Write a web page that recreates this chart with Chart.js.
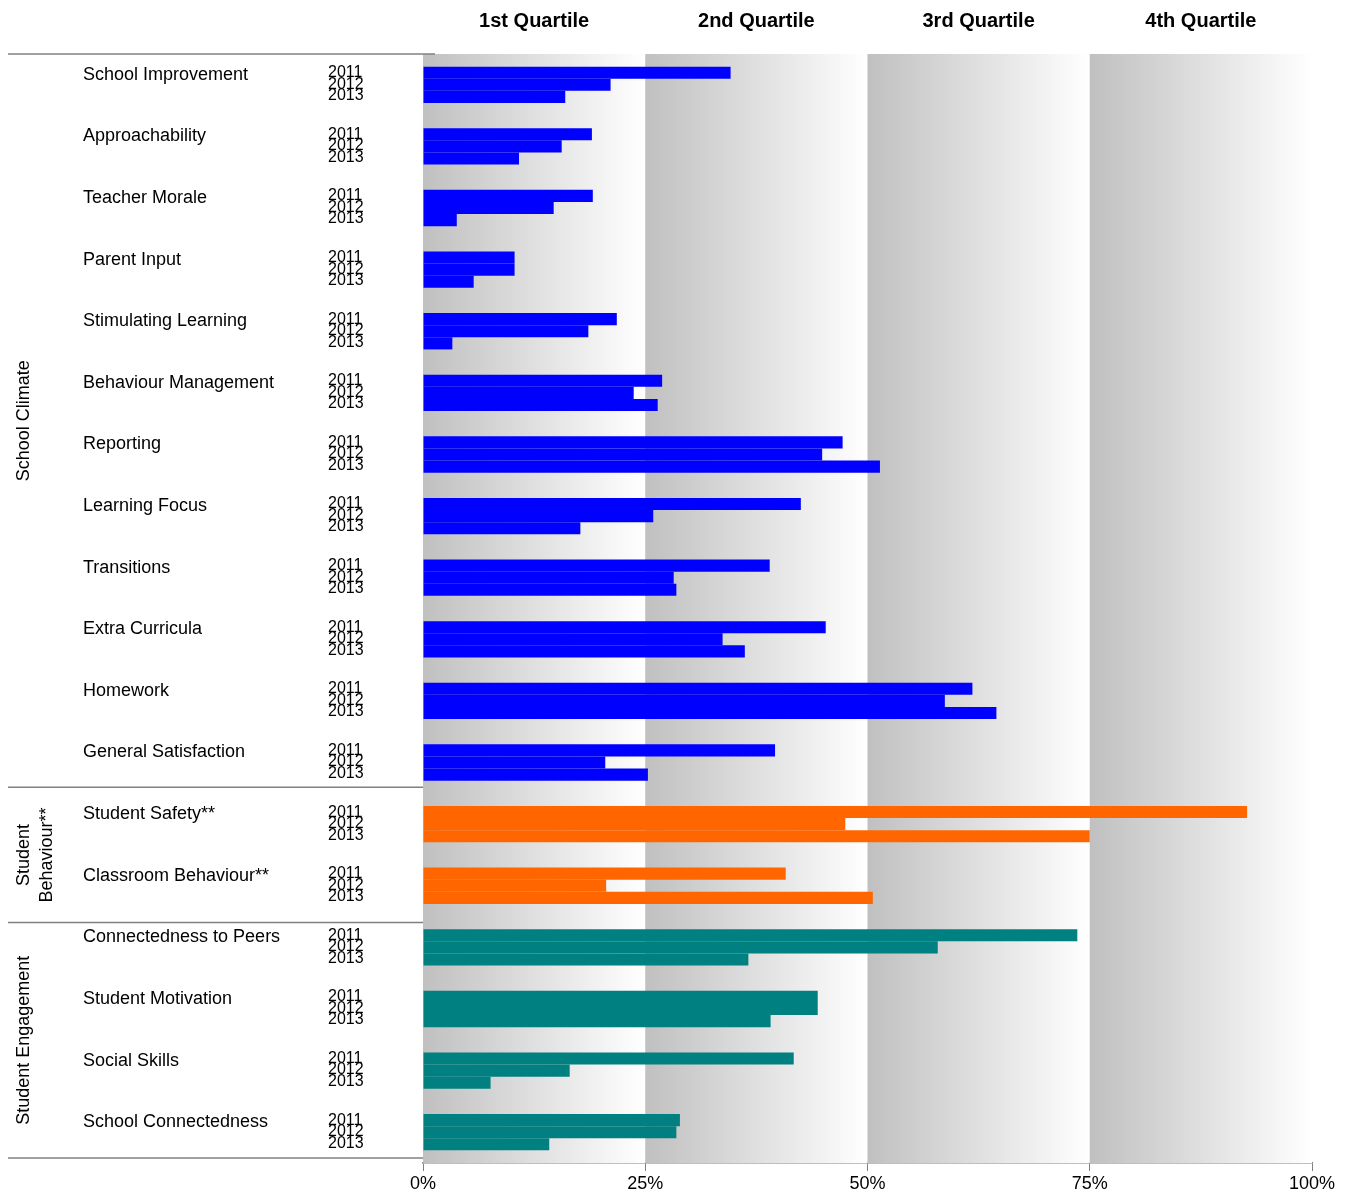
<!DOCTYPE html>
<html><head><meta charset="utf-8">
<script src="https://cdn.jsdelivr.net/npm/chart.js@4.4.0/dist/chart.umd.min.js"></script>
<style>body{margin:0;background:#fff}canvas{display:block}</style>
</head><body>
<canvas id="c" width="1351" height="1197"></canvas>
<script>
const categories = ['School Improvement','Approachability','Teacher Morale','Parent Input','Stimulating Learning','Behaviour Management','Reporting','Learning Focus','Transitions','Extra Curricula','Homework','General Satisfaction','Student Safety**','Classroom Behaviour**','Connectedness to Peers','Student Motivation','Social Skills','School Connectedness'];
const years = ['2011','2012','2013'];
const v2011 = [34.6,19.0,19.1,10.3,21.8,26.9,47.2,42.5,39.0,45.3,61.8,39.6,92.7,40.8,73.6,44.4,41.7,28.9];
const v2012 = [21.1,15.6,14.7,10.3,18.6,23.7,44.9,25.9,28.2,33.7,58.7,20.5,47.5,20.6,57.9,44.4,16.5,28.5];
const v2013 = [16.0,10.8,3.8,5.7,3.3,26.4,51.4,17.7,28.5,36.2,64.5,25.3,75.0,50.6,36.6,39.1,7.6,14.2];
const groups = [{name:['School Climate'],from:0,to:11},{name:['Student','Behaviour**'],from:12,to:13},{name:['Student Engagement'],from:14,to:17}];
const quartiles = ['1st Quartile','2nd Quartile','3rd Quartile','4th Quartile'];
const xTicks = [0,25,50,75,100];

const colorFor = i => i<12 ? '#0000ff' : (i<14 ? '#ff6600' : '#008080');
const colors = categories.map((_,i)=>colorFor(i));
const F = '"Liberation Sans", Arial, sans-serif';

const deco = {
  id:'deco',
  beforeDatasetsDraw(ch){
    const {ctx, chartArea:a, scales:{x}} = ch;
    for(let q=0;q<4;q++){
      const x0=x.getPixelForValue(q*25), x1=x.getPixelForValue(q*25+25);
      const g=ctx.createLinearGradient(x0,0,x1,0);
      g.addColorStop(0,'#c0c0c0'); g.addColorStop(1,'#ffffff');
      ctx.fillStyle=g; ctx.fillRect(x0,a.top,x1-x0,a.bottom-a.top);
    }
  },
  afterDraw(ch){
    const {ctx, chartArea:a, scales:{x,y}} = ch;
    ctx.save();
    ctx.fillStyle='#000';
    ctx.font='bold 20px '+F; ctx.textAlign='center'; ctx.textBaseline='middle';
    quartiles.forEach((t,q)=>ctx.fillText(t,(x.getPixelForValue(q*25)+x.getPixelForValue(q*25+25))/2,21));
    const step = y.getPixelForValue(1)-y.getPixelForValue(0);
    categories.forEach((c,i)=>{
      const cy=y.getPixelForValue(i);
      ctx.font='18px '+F; ctx.textAlign='left';
      ctx.fillText(c,83,cy-10);
      ctx.font='16px '+F;
      years.forEach((yr,k)=>ctx.fillText(yr,328,cy-12+k*11.5));
    });
    ctx.strokeStyle='#808080'; ctx.lineWidth=1.5;
    const lineY=i=>y.getPixelForValue(i)-step/2;
    const ys=[a.top,lineY(12)-6,lineY(14)+6,a.bottom-5];
    ys.forEach((v,k)=>{ctx.beginPath();ctx.moveTo(8,v);ctx.lineTo(a.left+(k===0?12:0),v);ctx.stroke();});
    ctx.font='18px '+F; ctx.textAlign='center';
    groups.forEach((g,k)=>{
      const cy=(ys[k]+ys[k+1])/2;
      ctx.save(); ctx.translate(24,cy); ctx.rotate(-Math.PI/2);
      g.name.forEach((n,j)=>ctx.fillText(n,0,j*23));
      ctx.restore();
    });
    ctx.restore();
  }
};

new Chart(document.getElementById('c'),{
  type:'bar',
  data:{labels:categories,datasets:[
    {label:'2011',data:v2011,backgroundColor:colors},
    {label:'2012',data:v2012,backgroundColor:colors},
    {label:'2013',data:v2013,backgroundColor:colors}
  ]},
  options:{
    indexAxis:'y', responsive:false, animation:false,
    layout:{padding:{left:423,right:39,top:54,bottom:0}},
    datasets:{bar:{categoryPercentage:0.59,barPercentage:1.0,borderWidth:0}},
    plugins:{legend:{display:false},tooltip:{enabled:false}},
    scales:{
      y:{display:false},
      x:{min:0,max:100,afterBuildTicks:s=>{s.ticks=xTicks.map(v=>({value:v}));},
        afterFit:s=>{s.height=34;},
        grid:{drawOnChartArea:false,drawTicks:true,tickLength:8,color:'#808080'},
        border:{color:'#808080',width:1.5},
        ticks:{color:'#000',font:{size:18,family:F},padding:2,callback:v=>v+'%'}}
    }
  },
  plugins:[deco]
});
</script>
</body></html>
